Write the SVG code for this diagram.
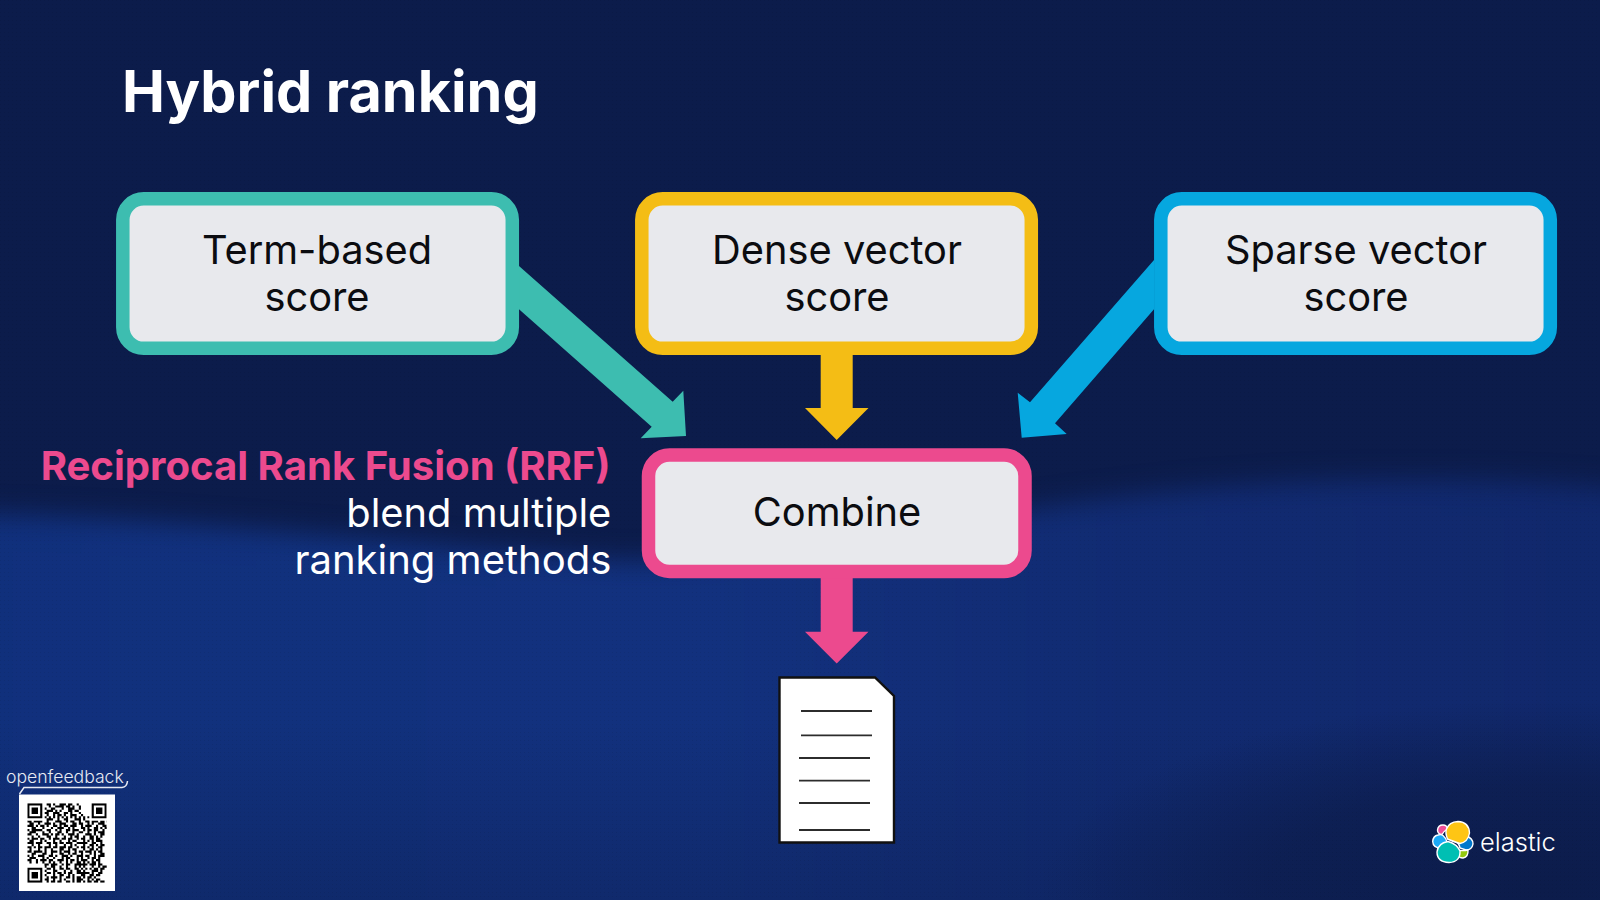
<svg xmlns="http://www.w3.org/2000/svg" width="1600" height="900" viewBox="0 0 1600 900">
<defs>
<filter id="blur" x="-5%" y="-10%" width="110%" height="120%" color-interpolation-filters="sRGB"><feGaussianBlur stdDeviation="13"/></filter>
<filter id="qrSoft" x="-2%" y="-2%" width="104%" height="104%" color-interpolation-filters="sRGB"><feGaussianBlur stdDeviation="0.25"/></filter>
<linearGradient id="bandFill" x1="0" y1="0" x2="1" y2="0"><stop offset="0" stop-color="#10307c"/><stop offset="0.45" stop-color="#12317e"/><stop offset="0.68" stop-color="#112b72"/><stop offset="1" stop-color="#10276a"/></linearGradient>
<linearGradient id="lowFade" x1="0" y1="0" x2="0" y2="1"><stop offset="0" stop-color="#0c1c4b" stop-opacity="0"/><stop offset="1" stop-color="#0c1c4b" stop-opacity="0.35"/></linearGradient>
<radialGradient id="cornerDark" cx="0.5" cy="0.5" r="0.5"><stop offset="0" stop-color="#0c1c4b" stop-opacity="1"/><stop offset="0.55" stop-color="#0c1c4b" stop-opacity="0.7"/><stop offset="1" stop-color="#0c1c4b" stop-opacity="0"/></radialGradient>
<pattern id="grain" width="4" height="4" patternUnits="userSpaceOnUse"><rect width="1" height="1" fill="#000" opacity="0.07"/></pattern>
<clipPath id="qrClip"><rect width="37" height="37"/></clipPath>
</defs>
<style>
.box{fill:#e8e9ed;stroke-width:13.5}
.label{font-family:Inter,"Liberation Sans",sans-serif;font-size:39.8px;fill:#0b0c10;text-anchor:middle}
.line{stroke:#2c2c2c;stroke-width:1.8;fill:none}
.petal{stroke:#fff;stroke-width:1.4}
</style>
<rect width="1600" height="900" fill="#0c1c4b"/>
<path d="M-120 514 C100 508 350 540 620 560 C800 565 1000 495 1300 482 C1450 476 1600 482 1720 500 V1000 H-120Z" fill="url(#bandFill)" filter="url(#blur)"/>
<rect y="720" width="1600" height="180" fill="url(#lowFade)"/>
<ellipse cx="1540" cy="890" rx="500" ry="190" fill="url(#cornerDark)"/>
<rect width="1600" height="900" fill="url(#grain)"/>
<text x="122" y="112" font-family="Inter,'Liberation Sans',sans-serif" font-size="57.500" font-weight="700" fill="#fff">Hybrid ranking</text>
<g id="connectors">
<polygon fill="#3dbdb0" points="519,266 672.700,401.700 683.300,390.700 686,436 640.700,438.300 651.700,426.700 519,309.300"/>
<polygon fill="#f4bd15" points="820.700,355 852.700,355 852.700,408 868.500,408 836.700,440 805,408 820.700,408"/>
<polygon fill="#06a7df" points="1154,260 1030,402.300 1017.700,392.700 1021.700,437.700 1066.700,434 1055,423.300 1154,309.300"/>
<polygon fill="#ec4a8e" points="820.700,578 852.700,578 852.700,631.700 868.500,631.700 836.700,663.500 805,631.700 820.700,631.700"/>
</g>
<g id="term"><rect class="box" x="122.800" y="198.800" width="389.500" height="149.500" rx="21" stroke="#3dbdb0"/><text class="label"><tspan x="317" y="264">Term-based</tspan><tspan x="317" y="311">score</tspan></text></g>
<g id="dense"><rect class="box" x="641.800" y="198.800" width="389.500" height="149.500" rx="21" stroke="#f4bd15"/><text class="label"><tspan x="837" y="264">Dense vector</tspan><tspan x="837" y="311">score</tspan></text></g>
<g id="sparse"><rect class="box" x="1160.800" y="198.800" width="389.500" height="149.500" rx="21" stroke="#06a7df"/><text class="label"><tspan x="1356" y="264">Sparse vector</tspan><tspan x="1356" y="311">score</tspan></text></g>
<g id="combine"><rect class="box" x="648.500" y="455" width="376.500" height="116.500" rx="21" stroke="#ec4a8e"/><text class="label" x="837" y="526">Combine</text></g>
<g id="caption" font-family="Inter,'Liberation Sans',sans-serif" text-anchor="end">
<text x="610.500" y="480" font-size="40.100" font-weight="700" fill="#ec4a8e">Reciprocal Rank Fusion (RRF)</text>
<text x="611.300" y="527" font-size="39.850" fill="#fff">blend multiple</text>
<text x="611.300" y="574" font-size="40" fill="#fff">ranking methods</text>
</g>
<g id="document">
<path d="M779.500 677.500 H875 L894 696 V842.500 H779.500Z" fill="#fff" stroke="#111" stroke-width="2.400"/>
<path class="line" d="M801 711 H872M801 735.300 H872M799 758 H870M799 780.700 H870M799 803 H870M799 830 H870"/>
</g>
<g id="openfeedback">
<text x="6" y="783" font-family="Inter,'Liberation Sans',sans-serif" font-size="17.600" font-weight="300" fill="#e6e9f2">openfeedback</text>
<path d="M19.500 794 L24 787.500 H122 Q127 787 127.500 781" fill="none" stroke="#e6e9f2" stroke-width="1.500"/>
<rect x="19" y="794.500" width="96" height="96.500" fill="#fff"/>
<g transform="translate(27.300 803.300) scale(2.146)" filter="url(#qrSoft)">
<g clip-path="url(#qrClip)">
<path fill="none" stroke="#000" stroke-width="1" d="
M9 .5h2m1 0h1m2 0h3m1 0h2m2 0h1
M10 1.500h1m2 0h4m1 0h2m1 0h1m2 0h1
M8 2.500h1m2 0h2m3 0h1m2 0h3m2 0h1
M9 3.500h3m1 0h1m1 0h1m3 0h2m1 0h2
M8 4.500h2m2 0h3m2 0h2m1 0h1m3 0h1
M9 5.500h1m2 0h1m1 0h2m1 0h1m2 0h3m2 0h1
M8 6.500h1m1 0h1m1 0h1m1 0h1m1 0h1m1 0h1m1 0h1m1 0h1m1 0h1m1 0h1m1 0h1m1 0h1m1 0h1m1 0h1
M9 7.500h3m2 0h1m2 0h2m3 0h3m1 0h1
M0 8.500h2m1 0h4m2 0h1m3 0h3m2 0h1m1 0h2m2 0h1m2 0h2m1 0h3m1 0h2m1 0h1
M1 9.500h2m2 0h1m2 0h3m1 0h1m2 0h3m3 0h2m1 0h2m2 0h1m1 0h1m2 0h3
M0 10.500h3m1 0h1m1 0h2m1 0h1m2 0h2m1 0h1m1 0h2m1 0h3m2 0h1m1 0h3m2 0h1m2 0h2
M2 11.500h2m3 0h1m3 0h1m2 0h3m2 0h1m1 0h1m3 0h2m1 0h1m2 0h2m1 0h1m1 0h2
M0 12.500h1m1 0h5m2 0h2m2 0h1m1 0h1m2 0h2m1 0h3m2 0h1m1 0h2m1 0h2m2 0h1
M1 13.500h3m3 0h1m2 0h1m3 0h2m2 0h1m2 0h1m2 0h2m2 0h1m2 0h1m1 0h3
M0 14.500h2m2 0h1m2 0h3m1 0h1m1 0h2m1 0h1m2 0h3m1 0h1m3 0h3m1 0h1m2 0h2
M2 15.500h1m2 0h1m3 0h2m2 0h1m3 0h1m2 0h1m1 0h2m2 0h1m2 0h2m1 0h1m1 0h1
M0 16.500h1m1 0h3m1 0h2m2 0h1m1 0h3m1 0h2m1 0h2m2 0h1m1 0h2m2 0h2m1 0h2
M1 17.500h2m3 0h1m1 0h1m3 0h1m2 0h1m3 0h1m1 0h2m3 0h1m1 0h1m1 0h1m1 0h3
M0 18.500h3m1 0h3m2 0h2m1 0h2m1 0h2m1 0h3m2 0h5m2 0h2m2 0h1
M2 19.500h1m2 0h1m4 0h1m2 0h1m3 0h1m2 0h1m1 0h1m3 0h1m2 0h2m1 0h1m1 0h2
M0 20.500h2m1 0h1m1 0h2m1 0h3m1 0h2m1 0h3m1 0h2m2 0h1m1 0h2m1 0h1m1 0h1m2 0h2
M1 21.500h1m3 0h1m2 0h1m2 0h1m3 0h2m2 0h1m1 0h2m3 0h1m2 0h2m1 0h1m1 0h1
M0 22.500h2m1 0h4m1 0h1m2 0h3m1 0h1m1 0h3m2 0h1m1 0h2m1 0h3m1 0h1m1 0h2
M2 23.500h2m3 0h2m2 0h1m3 0h2m2 0h1m1 0h2m2 0h1m3 0h1m1 0h1m2 0h2
M0 24.500h1m1 0h1m2 0h3m2 0h2m1 0h1m2 0h3m1 0h1m2 0h3m1 0h2m2 0h1m1 0h3
M1 25.500h3m3 0h1m1 0h1m2 0h1m3 0h1m1 0h2m3 0h1m1 0h1m2 0h1m1 0h2m1 0h1
M0 26.500h2m2 0h1m1 0h3m1 0h2m2 0h3m1 0h1m1 0h2m1 0h1m1 0h3m2 0h1m1 0h2
M1 27.500h1m2 0h1m2 0h1m2 0h1m1 0h1m2 0h1m2 0h1m1 0h1m2 0h2m1 0h1m1 0h1m1 0h2m1 0h1
M8 28.500h2m1 0h3m2 0h1m1 0h2m2 0h6m1 0h3m1 0h2
M8 29.500h1m2 0h2m2 0h1m2 0h1m3 0h1m1 0h1m1 0h1m3 0h1m2 0h1m1 0h3
M9 30.500h2m1 0h1m2 0h2m1 0h2m2 0h2m1 0h1m1 0h1m1 0h1m1 0h2m1 0h2
M8 31.500h1m3 0h2m3 0h1m2 0h1m2 0h2m1 0h1m3 0h3m1 0h1
M9 32.500h2m1 0h1m1 0h2m1 0h1m1 0h2m2 0h6m1 0h1m2 0h2
M8 33.500h1m3 0h1m2 0h2m2 0h1m1 0h1m3 0h2m2 0h2m1 0h2
M9 34.500h1m1 0h3m1 0h1m2 0h2m1 0h1m1 0h2m1 0h1m1 0h2m1 0h1
M8 35.500h2m2 0h1m2 0h1m1 0h1m3 0h1m1 0h3m2 0h1m1 0h1m1 0h2
M9 36.500h1m1 0h2m1 0h2m2 0h2m1 0h1m1 0h2m1 0h1m1 0h2m1 0h2m1 0h2"/>
<rect x="0" y="0" width="8" height="8" fill="#fff"/>
<rect x="29" y="0" width="8" height="8" fill="#fff"/>
<rect x="0" y="29" width="8" height="8" fill="#fff"/>
<path fill="#000" fill-rule="evenodd" d="M0 0h7v7h-7zM1 1v5h5v-5zM2 2h3v3h-3z"/>
<path fill="#000" fill-rule="evenodd" d="M30 0h7v7h-7zM31 1v5h5v-5zM32 2h3v3h-3z"/>
<path fill="#000" fill-rule="evenodd" d="M0 30h7v7h-7zM1 31v5h5v-5zM2 32h3v3h-3z"/>
</g>
</g>
</g>
<g id="elastic">
<path class="petal" fill="#f04e98" d="M1437.500 830 Q1438 825 1443 825 Q1447 825 1447.500 829 Q1444 831 1442 834.500 Q1437.500 834 1437.500 830Z"/>
<path class="petal" fill="#1ba9f5" d="M1438 835 Q1441 834 1443 835.500 Q1446 838 1447 842 Q1443 845 1441 848 Q1433 848 1432.700 841.500 Q1433 836 1438 835Z"/>
<path class="petal" fill="#0077cc" d="M1466 836 Q1473 838 1473 844 Q1472 850 1466 850 L1460 848 Q1459 843 1456 842 Z"/>
<path class="petal" fill="#93c90e" d="M1459.500 850.500 Q1464 851 1468 850 Q1468.500 857 1463 858 Q1459 858 1458 855Z"/>
<path class="petal" fill="#00bfb3" d="M1448 841.500 Q1457 844 1460 851 Q1460.500 862 1449 862.500 Q1437 862 1437 852 Q1438 843 1448 841.500Z"/>
<path class="petal" fill="#fec514" d="M1458 821.500 Q1469 822 1469.500 833 Q1468 842 1460 843.500 Q1452 841 1447.500 839 Q1445 833 1446.500 829 Q1449 822 1458 821.500Z"/>
<text x="1480" y="851" font-family="Inter,'Liberation Sans',sans-serif" font-size="25.500" font-weight="300" fill="#fff">elastic</text>
</g>
</svg>
